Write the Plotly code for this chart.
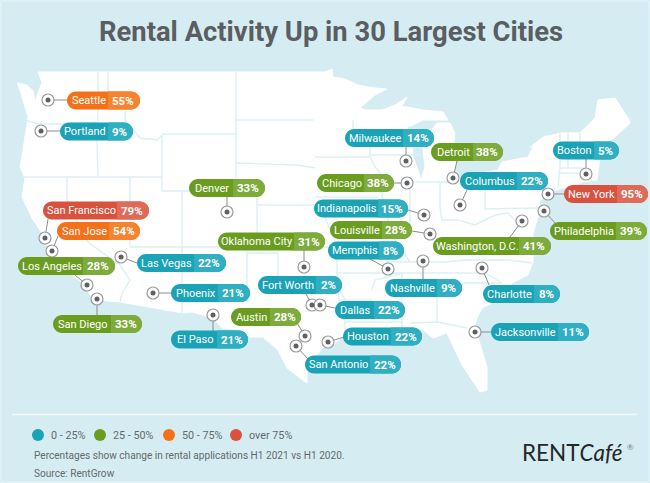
import plotly.graph_objects as go

# rental application change by city, H1 2021 vs H1 2020
cities = ["Seattle", "Portland", "Denver", "San Francisco", "San Jose", "Oklahoma City",
          "Milwaukee", "Detroit", "Boston", "Chicago", "Columbus", "New York",
          "Indianapolis", "Louisville", "Memphis", "Washington, D.C.", "Philadelphia",
          "Las Vegas", "Los Angeles", "Phoenix", "Fort Worth", "San Diego", "Austin",
          "El Paso", "San Antonio", "Nashville", "Charlotte", "Dallas", "Houston",
          "Jacksonville"]
changes = [55, 9, 33, 79, 54, 31, 14, 38, 5, 38, 22, 95, 15, 28, 8, 41, 39, 22, 28, 21,
           2, 33, 28, 21, 22, 9, 8, 22, 22, 11]

# label pills, pixels of the 650x483 picture
pill_left = [67, 60, 189, 43, 57, 218, 345, 431, 553, 317, 460, 564, 314, 330, 328, 433,
             550, 137, 18, 171, 258, 53, 231, 171, 305, 385, 483, 335, 343, 491]
pill_split = [108, 108, 233, 117, 109, 294, 403, 473, 594, 364, 517, 617, 378, 382, 379,
              519, 616, 194, 83, 218, 316, 111, 270, 217, 370, 437, 534, 374, 391, 558]
pill_right = [140, 133, 265, 149, 140, 325, 434, 503, 619, 394, 548, 648, 408, 412, 404,
              551, 647, 226, 115, 250, 342, 142, 301, 248, 401, 462, 560, 405, 422, 589]
pill_mid = [100.5, 131.5, 188, 210.5, 231, 241.5, 138, 152, 150.5, 183, 181, 194, 208.5,
            230, 250.5, 246, 231, 263, 266, 293, 285, 324, 317, 339.5, 364.5, 288, 294,
            310, 336.5, 332]

# city dots and where their leader meets the pill
dot_x = [48, 41, 227, 45, 52, 304, 406, 453, 586, 407, 460, 548, 424, 430, 388, 522, 544,
         121, 87, 153, 312, 97, 305, 213, 296, 423, 482, 320, 328, 475]
dot_y = [100, 131, 212, 238, 251, 267, 161, 178, 174, 183, 205, 194, 215, 234, 269, 221,
         211, 257, 285, 293, 305, 299, 336, 315, 346, 261, 268, 305, 342, 332]
end_x = [67, 60, 227, 48, 58, 304, 406, 457, 586, 394, 467, 564, 405, 412, 370, 510, 556,
         137, 75, 171, 306, 97, 297, 213, 308, 423, 489, 335, 344, 491]
end_y = [100, 131, 197, 219, 236, 250, 147, 161, 159, 183, 190, 194, 209, 231, 259, 237,
         224, 263, 275, 293, 294, 315, 323, 331, 359, 279, 285, 308, 337, 332]

outline_x = [38, 200, 325, 332, 333, 345, 358, 375, 387, 375, 360, 365, 382, 395, 407, 402,
             423, 443, 448, 423, 413, 407, 412, 413, 418, 421, 425, 423, 428, 437, 450, 455,
             453, 456, 454, 458, 475, 498, 502, 528, 535, 530, 543, 560, 580, 595, 598, 615,
             628, 630, 615, 602, 600, 597, 583, 567, 555, 540, 538, 533, 533, 528, 512, 492,
             482, 477, 474, 475, 487, 487, 480, 472, 462, 447, 433, 422, 400, 372, 345, 333,
             322, 307, 307, 287, 278, 263, 250, 240, 222, 213, 192, 183, 150, 120, 97, 90,
             83, 72, 50, 42, 33, 22, 25, 20, 23, 28, 20, 17, 27, 33, 35, 38, 42, 38]
outline_y = [72, 72, 72, 69, 77, 79, 85, 88, 89, 95, 108, 110, 110, 105, 97, 106,
             110, 112, 120, 120, 125, 127, 140, 157, 170, 180, 167, 150, 135, 123, 123, 133,
             150, 160, 177, 178, 174, 170, 162, 157, 143, 148, 137, 133, 133, 118, 100, 98,
             118, 123, 137, 147, 157, 180, 182, 187, 190, 200, 217, 233, 262, 275, 283, 303,
             308, 318, 328, 327, 367, 390, 392, 380, 365, 333, 338, 329, 330, 335, 335, 345,
             348, 370, 383, 368, 350, 337, 337, 330, 328, 318, 312, 313, 307, 302, 300, 295,
             283, 275, 253, 233, 220, 197, 178, 167, 150, 117, 90, 83, 85, 91, 102, 93, 82, 72]

# state borders as [x...], [y...] pairs
border_lines = [
    ([98, 98, 97, 98], [72, 109, 143, 177]),
    ([25, 38, 60, 98], [120, 124, 124, 122]),
    ([108, 108, 126, 125, 140, 157, 162], [72, 90, 109, 120, 138, 140, 135]),
    ([162, 162], [135, 191]),
    ([22, 162], [177, 177]),
    ([130, 130], [177, 247]),
    ([67, 67, 88, 118], [177, 200, 242, 264]),
    ([182, 182], [191, 317]),
    ([162, 236], [134, 134]),
    ([162, 236, 236, 257, 257], [191, 191, 191, 191, 247]),
    ([236, 236], [72, 191]),
    ([236, 314], [120, 120]),
    ([236, 297, 315], [163, 165, 168]),
    ([257, 320], [205, 205]),
    ([130, 278], [247, 247]),
    ([247, 278], [253, 253]),
    ([278, 278, 305, 337, 345], [253, 277, 280, 285, 300]),
    ([247, 247], [247, 302]),
    ([182, 222], [302, 302]),
    ([118, 123, 130, 122, 120], [262, 270, 280, 293, 302]),
    ([257, 337], [247, 247]),
    ([320, 337, 337], [205, 247, 285]),
    ([337, 403, 455], [273, 273, 273]),
    ([337, 340, 345, 345], [285, 305, 322, 335]),
    ([340, 372], [300, 300]),
    ([372, 375, 403], [290, 280, 273]),
    ([345, 402], [322, 322]),
    ([402, 402], [273, 328]),
    ([410, 437, 467], [323, 322, 328]),
    ([420, 437, 437], [273, 298, 322]),
    ([455, 485, 502], [273, 273, 283]),
    ([437, 465, 502], [298, 283, 283]),
    ([385, 445, 465, 508, 532], [262, 262, 260, 260, 263]),
    ([353, 353, 370, 370, 375, 380, 378, 385, 395, 410],
     [120, 130, 140, 157, 167, 172, 177, 210, 240, 262]),
    ([315, 370], [157, 157]),
    ([315, 378], [197, 197]),
    ([370, 422], [155, 155]),
    ([410, 410, 405], [182, 227, 240]),
    ([410, 458], [182, 182]),
    ([440, 440, 442], [182, 208, 220]),
    ([442, 458, 475, 495, 508, 522], [220, 220, 225, 215, 213, 227]),
    ([485, 485], [180, 209]),
    ([485, 538], [209, 208]),
    ([485, 555], [187, 190]),
    ([560, 560, 558], [133, 167, 187]),
    ([568, 568], [133, 167]),
    ([580, 580, 580], [133, 145, 157]),
    ([560, 583], [168, 168]),
    ([558, 582], [173, 173]),
]

legend_labels = ["0 - 25%", "25 - 50%", "50 - 75%", "over 75%"]
legend_x = [38, 100, 169, 236]
bin_colors = ["#1AA2B6", "#6A9D1F", "#F4711A", "#D9523F"]
split_colors = ["#2FAFC1", "#7EAC3C", "#F6842F", "#E06A58"]

BG = "#D5EDF2"
GREY = "#66696C"


def band(value):
    if value < 25:
        return 0
    if value < 50:
        return 1
    if value < 75:
        return 2
    return 3


def pill_path(x0, x1, y0, y1, round_left=True):
    r = (y1 - y0) / 2
    k = r * 0.45
    right = (f"L{x1 - r},{y0} C{x1 - k},{y0} {x1},{y0 + k} {x1},{y0 + r} "
             f"C{x1},{y1 - k} {x1 - k},{y1} {x1 - r},{y1} ")
    if round_left:
        return (f"M{x0 + r},{y0} {right}L{x0 + r},{y1} C{x0 + k},{y1} {x0},{y1 - k} {x0},{y0 + r} "
                f"C{x0},{y0 + k} {x0 + k},{y0} {x0 + r},{y0} Z")
    return f"M{x0},{y0} {right}L{x0},{y1} Z"


fig = go.Figure()

fig.add_trace(go.Scatter(x=outline_x, y=outline_y, mode="lines", fill="toself",
                         fillcolor="white", line=dict(color="white", width=1),
                         hoverinfo="skip"))
for bx, by in border_lines:
    fig.add_trace(go.Scatter(x=bx, y=by, mode="lines", hoverinfo="skip",
                             line=dict(color="#DCF0F4", width=1.4)))

# leaders first so the dots sit on top
for i in range(len(cities)):
    fig.add_trace(go.Scatter(x=[dot_x[i], end_x[i]], y=[dot_y[i], end_y[i]], mode="lines",
                             hoverinfo="skip", line=dict(color="#8A8C8E", width=1)))
fig.add_trace(go.Scatter(x=dot_x, y=dot_y, mode="markers", hoverinfo="skip",
                         marker=dict(size=12, color="rgba(255,255,255,0.85)",
                                     line=dict(color="#9A9C9E", width=1.2))))
fig.add_trace(go.Scatter(x=dot_x, y=dot_y, mode="markers", hoverinfo="skip",
                         marker=dict(size=5, color="#5E6062")))

# legend dots
fig.add_trace(go.Scatter(x=legend_x, y=[435] * 4, mode="markers", hoverinfo="skip",
                         marker=dict(size=12, color=bin_colors)))

shapes = [
    dict(type="rect", x0=1, x1=649, y0=1, y1=482, line=dict(color="#E6F5F8", width=1),
         layer="below"),
    dict(type="line", x0=12, x1=638, y0=414.5, y1=414.5, line=dict(color="#F0F9FA", width=1.6),
         layer="below"),
]
annotations = []


def add_text(x, y, text, size, color, anchor="center", family="Roboto"):
    annotations.append(dict(x=x, y=y, text=text, showarrow=False, xanchor=anchor, yanchor="middle",
                            font=dict(size=size, color=color, family=family)))


for i, city in enumerate(cities):
    b = band(changes[i])
    y0, y1 = pill_mid[i] - 9, pill_mid[i] + 9
    shapes.append(dict(type="path", path=pill_path(pill_left[i], pill_right[i], y0, y1),
                       fillcolor=bin_colors[b], line=dict(width=0), layer="above"))
    shapes.append(dict(type="path", path=pill_path(pill_split[i], pill_right[i], y0, y1, False),
                       fillcolor=split_colors[b], line=dict(width=0), layer="above"))
    add_text((pill_left[i] + pill_split[i]) / 2 + 1, pill_mid[i], city, 11, "white")
    add_text((pill_split[i] + pill_right[i]) / 2 - 1, pill_mid[i], f"<b>{changes[i]}%</b>", 11.5, "white")

add_text(331, 32, "<b>Rental Activity Up in 30 Largest Cities</b>", 27.4, "#5A5E62")

for lx, label in zip(legend_x, legend_labels):
    add_text(lx + 11, 435, label, 10.8, GREY, anchor="left")
add_text(32, 455, "Percentages show change in rental applications H1 2021 vs H1 2020.", 10.1, GREY, anchor="left")
add_text(32, 473, "Source: RentGrow", 10.1, GREY, anchor="left")

add_text(520, 452, "RENT<i>Café</i>", 22.5, "#23282B", anchor="left", family="Lato")
annotations.append(dict(x=630, y=447, text="®", showarrow=False, font=dict(size=8, color="#777", family="Lato")))

fig.update_layout(
    width=650, height=483, margin=dict(l=0, r=0, t=0, b=0),
    paper_bgcolor=BG, plot_bgcolor=BG, showlegend=False,
    xaxis=dict(range=[0, 650], visible=False, fixedrange=True),
    yaxis=dict(range=[483, 0], visible=False, fixedrange=True),
    shapes=shapes, annotations=annotations,
)

fig.write_html("out.html", config={"displayModeBar": False},
               post_script="document.body.style.margin='0';document.body.style.overflow='hidden';")
